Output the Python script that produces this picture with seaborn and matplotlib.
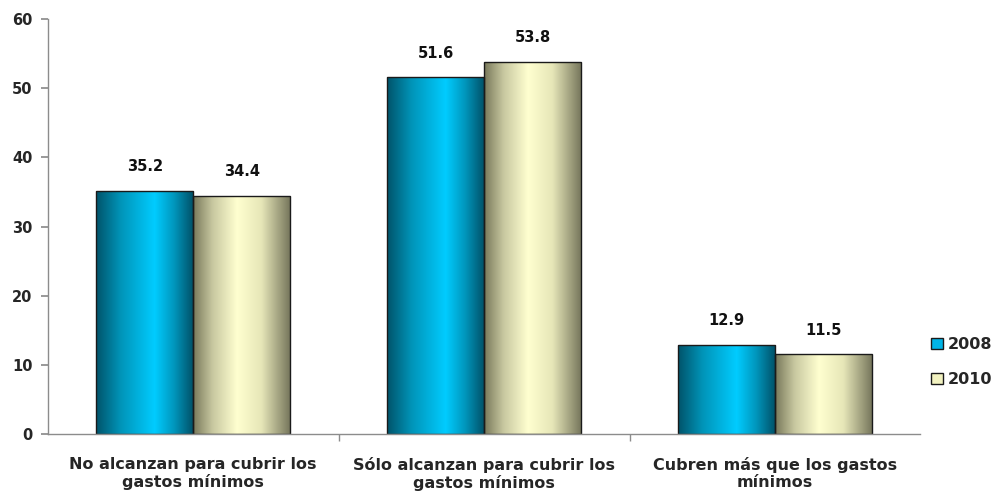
import numpy as np
import pandas as pd
import matplotlib
matplotlib.use("Agg")
import matplotlib.pyplot as plt
import seaborn as sns
from matplotlib.colors import LinearSegmentedColormap
from matplotlib.patches import Patch

categories = ["No alcanzan para cubrir los\ngastos mínimos",
              "Sólo alcanzan para cubrir los\ngastos mínimos",
              "Cubren más que los gastos\nmínimos"]
years = ["2008", "2010"]
values_2008 = [35.2, 51.6, 12.9]
values_2010 = [34.4, 53.8, 11.5]

df = pd.DataFrame({
    "cat": categories * 2,
    "year": [years[0]] * 3 + [years[1]] * 3,
    "val": values_2008 + values_2010,
})

sns.set_theme(style="white")
plt.rcParams['font.family'] = ['DejaVu Sans']

fig = plt.figure(figsize=(9.95, 4.93), dpi=100)
ax = fig.add_axes([0.048, 0.12, 0.877, 0.841])

legend_colors = {"2008": "#00B4E6", "2010": "#F2F2C0"}
sns.barplot(data=df, x="cat", y="val", hue="year", palette=legend_colors,
            width=0.667, ax=ax, legend=False, saturation=1)

grad_blue = LinearSegmentedColormap.from_list(
    "b", [(0, "#00536A"), (0.25, "#0094B8"), (0.6, "#00CCFF"), (0.8, "#0096BC"), (1, "#004F66")])
grad_yel = LinearSegmentedColormap.from_list(
    "y", [(0, "#78785A"), (0.2, "#C8C8A0"), (0.45, "#FFFFD0"), (0.7, "#E6E6B8"), (1, "#74745A")])

grad = np.linspace(0, 1, 256).reshape(1, -1)
bars = [p for p in ax.patches]
for i, p in enumerate(bars):
    cmap = grad_blue if i < 3 else grad_yel
    x0, y0 = p.get_x(), p.get_y()
    w, h = p.get_width(), p.get_height()
    im = ax.imshow(grad, cmap=cmap, aspect="auto", extent=[x0, x0 + w, y0, y0 + h],
                   zorder=p.get_zorder() + 0.1, interpolation="bilinear")
    im.set_clip_path(p)
    p.set_edgecolor("#1a1a1a")
    p.set_linewidth(1.0)
    p.set_facecolor("none")
    p.set_zorder(p.get_zorder() + 0.2)

for cont in ax.containers:
    ax.bar_label(cont, fmt="%.1f", padding=12, fontsize=10.5, fontweight="bold", color="#111111")

ax.set_xlim(-0.5, 2.5)
ax.set_ylim(0, 60)
ax.set_yticks(range(0, 61, 10))
ax.set_xlabel("")
ax.set_ylabel("")
for s in ["top", "right"]:
    ax.spines[s].set_visible(False)
for s in ["left", "bottom"]:
    ax.spines[s].set_color("#8c8c8c")
    ax.spines[s].set_linewidth(1.0)

ax.tick_params(axis="y", which="major", left=True, length=5, color="#8c8c8c",
               labelsize=10.5, pad=6)
ax.set_xticks([0.5, 1.5], minor=True)
ax.tick_params(axis="x", which="minor", bottom=True, length=5, color="#8c8c8c")
ax.tick_params(axis="x", which="major", bottom=False, labelsize=11.5, pad=11)
for lab in ax.get_yticklabels():
    lab.set_fontweight("bold")
for lab in ax.get_xticklabels():
    lab.set_fontweight("bold")
    lab.set_linespacing(1.15)

handles = [Patch(facecolor=legend_colors[y], edgecolor="#1a1a1a", label=y) for y in years]
leg = fig.legend(handles=handles, loc="center left", bbox_to_anchor=(0.936, 0.265),
                 frameon=False, handlelength=0.7, handleheight=0.7, labelspacing=1.25,
                 handletextpad=0.35, borderpad=0, borderaxespad=0,
                 prop={"weight": "bold", "size": 11.5})

fig.savefig("out.png", dpi=100)
